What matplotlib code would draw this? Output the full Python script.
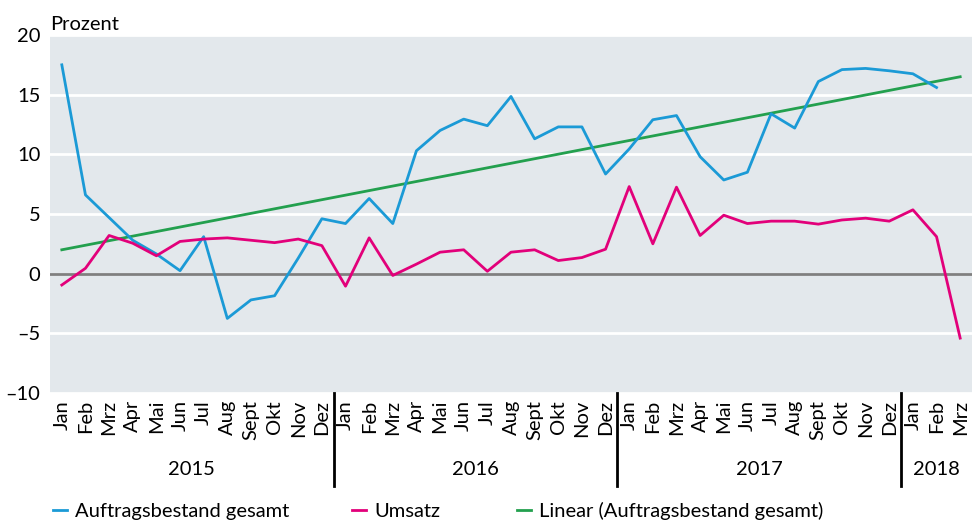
import numpy as np
import matplotlib
matplotlib.use("Agg")
import matplotlib.pyplot as plt
import matplotlib.transforms as mtransforms

plt.rcParams['font.family'] = ['Lato', 'DejaVu Sans']

# Data (Veränderung gegenüber Vorjahresmonat, Prozent)
months = ["Jan", "Feb", "Mrz", "Apr", "Mai", "Jun", "Jul", "Aug", "Sept", "Okt", "Nov", "Dez"]
years = ["2015", "2016", "2017", "2018"]
month_labels = months * 3 + months[:3]

auftragsbestand = [17.5, 6.6, 4.7, 2.8, 1.65, 0.25, 3.1, -3.75, -2.2, -1.85, 1.3, 4.6,
                   4.2, 6.3, 4.2, 10.3, 12.0, 12.95, 12.4, 14.85, 11.3, 12.3, 12.3, 8.35,
                   10.45, 12.9, 13.25, 9.8, 7.85, 8.5, 13.4, 12.2, 16.1, 17.1, 17.2, 17.0,
                   16.75, 15.6]
umsatz = [-0.95, 0.45, 3.2, 2.55, 1.5, 2.7, 2.9, 3.0, 2.8, 2.6, 2.9, 2.35,
          -1.05, 3.0, -0.15, 0.8, 1.8, 2.0, 0.2, 1.8, 2.0, 1.1, 1.35, 2.05,
          7.3, 2.5, 7.25, 3.2, 4.9, 4.2, 4.4, 4.4, 4.15, 4.5, 4.65, 4.4,
          5.35, 3.1, -5.4]
# Linearer Trend (Auftragsbestand gesamt): Anfangs- und Endwert
trend_start, trend_end = 2.0, 16.5

blue = "#1B9AD6"
pink = "#E2007A"
green = "#23A04E"
fs = 14.5

fig = plt.figure(figsize=(9.8, 5.25), dpi=100)
ax = fig.add_axes([50 / 980, 1 - 393 / 525, 922 / 980, 358 / 525])

x_all = np.arange(len(month_labels))
ax.set_facecolor("#E3E8EC")
for s in ax.spines.values():
    s.set_visible(False)

ax.set_ylim(-10, 20)
ax.set_xlim(-0.5, len(month_labels) - 0.5)
yt = np.arange(-10, 21, 5)
ax.set_yticks(yt)
ax.set_yticklabels([str(v).replace("-", "\u2013") for v in yt], fontsize=fs)
ax.yaxis.grid(True, color="white", linewidth=2)
ax.set_axisbelow(True)
ax.axhline(0, color="#7F7F7F", linewidth=2, zorder=1)

l1, = ax.plot(x_all[:len(auftragsbestand)], auftragsbestand, color=blue, linewidth=2,
              label="Auftragsbestand gesamt", zorder=3)
l2, = ax.plot(x_all, umsatz, color=pink, linewidth=2, label="Umsatz", zorder=3)
l3, = ax.plot([x_all[0], x_all[-1]], [trend_start, trend_end], color=green, linewidth=2,
              label="Linear (Auftragsbestand gesamt)", zorder=2)

ax.set_xticks(x_all)
ax.set_xticklabels(month_labels, rotation=90, fontsize=fs)
ax.tick_params(axis="both", length=0)
ax.tick_params(axis="x", pad=5)
ax.tick_params(axis="y", pad=7)

# Jahres-Trennlinien und Jahreszahlen
trans = mtransforms.blended_transform_factory(ax.transData, ax.transAxes)
for i, yr in enumerate(years):
    start = i * 12
    end = min(start + 12, len(month_labels))
    ax.text((start + end - 1) / 2, -0.215, yr, transform=trans, ha="center",
            va="center", fontsize=fs)
    if i > 0:
        ax.plot([start - 0.5, start - 0.5], [0, -0.26], transform=trans,
                color="black", linewidth=2, clip_on=False)

ax.text(0, 1.005, "Prozent", transform=ax.transAxes, ha="left", va="bottom", fontsize=fs)

# Legende: drei Einträge an festen Positionen
for line, xpos in [(l1, 45), (l2, 344), (l3, 509)]:
    leg = fig.legend(handles=[line], loc="center left",
                     bbox_to_anchor=(xpos / 980, 1 - 511 / 525), frameon=False,
                     fontsize=fs, handlelength=0.7, handletextpad=0.4,
                     borderaxespad=0)

fig.savefig("out.png", dpi=100)
